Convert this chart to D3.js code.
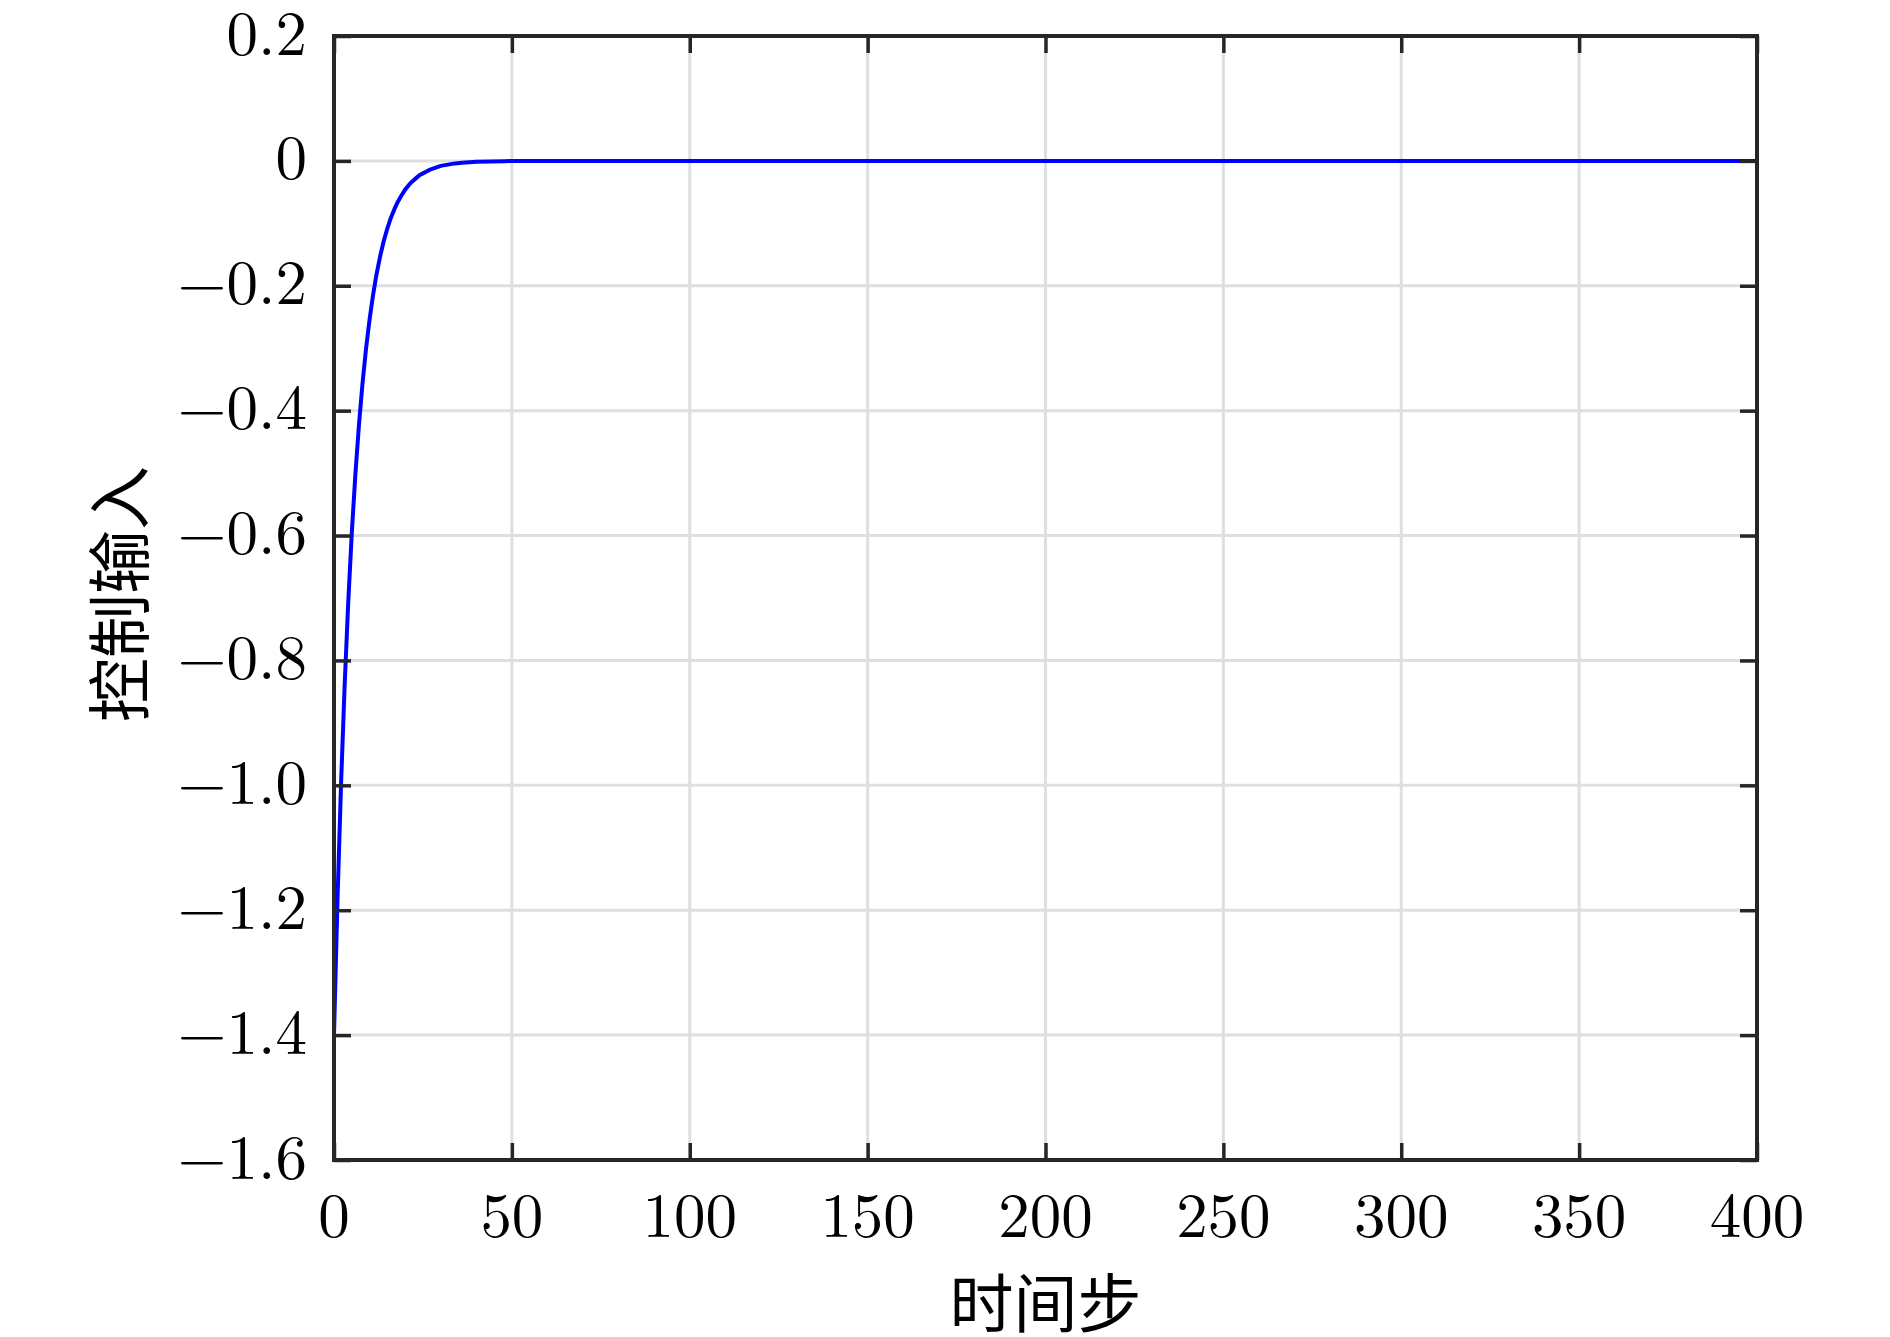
<!DOCTYPE html>
<html>
<head>
<meta charset="utf-8">
<script src="https://cdn.jsdelivr.net/npm/d3@7"></script>
<style>
  html, body { margin: 0; padding: 0; background: #ffffff; }
  svg { display: block; }
</style>
</head>
<body>
<svg id="chart" width="1890" height="1337"></svg>
<script>
// ---- data ----
const steps = [0,1,2,3,4,5,6,7,8,9,10,11,12,13,14,15,16,17,18,19,20,21,22,23,24,25,26,27,28,29,30,32,34,36,38,40,44,48,50,400];
const controlInput = [-1.400,-1.180,-0.995,-0.839,-0.707,-0.596,-0.503,-0.424,-0.357,-0.301,-0.254,-0.214,-0.180,-0.152,-0.128,-0.108,-0.091,-0.077,-0.065,-0.055,-0.046,-0.039,-0.033,-0.028,-0.023,-0.020,-0.017,-0.014,-0.012,-0.010,-0.008,-0.006,-0.004,-0.003,-0.002,-0.0015,-0.001,-0.0005,0,0];
const xTicks = [0,50,100,150,200,250,300,350,400];
const xTickLabels = ["0","50","100","150","200","250","300","350","400"];
const yTicks = [0.2,0,-0.2,-0.4,-0.6,-0.8,-1.0,-1.2,-1.4,-1.6];
const yTickLabels = ["0.2","0","\u22120.2","\u22120.4","\u22120.6","\u22120.8","\u22121.0","\u22121.2","\u22121.4","\u22121.6"];
const xLabel = "时间步";
const yLabel = "控制输入";

// ---- layout ----
const L = 334, R = 1757, T = 36, B = 1160;
const svg = d3.select("#chart");
const x = d3.scaleLinear().domain([0, 400]).range([L, R]);
const y = d3.scaleLinear().domain([-1.6, 0.2]).range([B, T]);

const axisColor = "#262626";
const gridColor = "#dfdfdf";
const serif = "'Latin Modern Roman','CMU Serif','Liberation Serif','DejaVu Serif',serif";
const cjk = "'Noto Sans CJK SC','Noto Sans CJK JP',sans-serif";

// grid
const grid = svg.append("g");
grid.selectAll("line.gx").data(xTicks).enter().append("line")
  .attr("x1", d => x(d)).attr("x2", d => x(d)).attr("y1", T).attr("y2", B)
  .attr("stroke", gridColor).attr("stroke-width", 3);
grid.selectAll("line.gy").data(yTicks).enter().append("line")
  .attr("y1", d => y(d)).attr("y2", d => y(d)).attr("x1", L).attr("x2", R)
  .attr("stroke", gridColor).attr("stroke-width", 3);

// line
const pts = steps.map((s, i) => [s, controlInput[i]]);
svg.append("path")
  .datum(pts)
  .attr("fill", "none")
  .attr("stroke", "#0000ff")
  .attr("stroke-width", 4)
  .attr("stroke-linejoin", "round")
  .attr("d", d3.line().x(d => x(d[0])).y(d => y(d[1])).curve(d3.curveLinear));

// axes via d3 axis generators (inward ticks)
const tickLen = 17;
function styleAxis(g) {
  g.select(".domain").remove();
  g.selectAll(".tick line").attr("stroke", axisColor).attr("stroke-width", 3.5);
  g.selectAll(".tick text").remove();
}
svg.append("g").attr("transform", `translate(0,${B})`)
  .call(d3.axisBottom(x).tickValues(xTicks).tickSizeInner(-tickLen).tickSizeOuter(0)).call(styleAxis);
svg.append("g").attr("transform", `translate(0,${T})`)
  .call(d3.axisTop(x).tickValues(xTicks).tickSizeInner(-tickLen).tickSizeOuter(0)).call(styleAxis);
svg.append("g").attr("transform", `translate(${L},0)`)
  .call(d3.axisLeft(y).tickValues(yTicks).tickSizeInner(-tickLen).tickSizeOuter(0)).call(styleAxis);
svg.append("g").attr("transform", `translate(${R},0)`)
  .call(d3.axisRight(y).tickValues(yTicks).tickSizeInner(-tickLen).tickSizeOuter(0)).call(styleAxis);

// box
svg.append("rect")
  .attr("x", L).attr("y", T).attr("width", R - L).attr("height", B - T)
  .attr("fill", "none").attr("stroke", axisColor).attr("stroke-width", 4);

// tick labels
svg.append("g").selectAll("text").data(xTicks).enter().append("text")
  .attr("x", d => x(d)).attr("y", 1210)
  .attr("text-anchor", "middle").attr("dominant-baseline", "central")
  .attr("font-family", serif).attr("font-size", 63).attr("fill", "#000")
  .text((d, i) => xTickLabels[i]);
svg.append("g").selectAll("text").data(yTicks).enter().append("text")
  .attr("x", 307).attr("y", d => y(d) - 8)
  .attr("text-anchor", "end").attr("dominant-baseline", "central")
  .attr("font-family", serif).attr("font-size", 63).attr("fill", "#000")
  .text((d, i) => yTickLabels[i]);

// axis labels
svg.append("text")
  .attr("x", (L + R) / 2).attr("y", 1299)
  .attr("text-anchor", "middle").attr("dominant-baseline", "central")
  .attr("font-family", cjk).attr("font-size", 64).attr("fill", "#000")
  .text(xLabel);
svg.append("text")
  .attr("transform", `translate(115,${(T + B) / 2 - 4}) rotate(-90)`)
  .attr("text-anchor", "middle").attr("dominant-baseline", "central")
  .attr("font-family", cjk).attr("font-size", 64).attr("fill", "#000")
  .text(yLabel);
</script>
</body>
</html>
